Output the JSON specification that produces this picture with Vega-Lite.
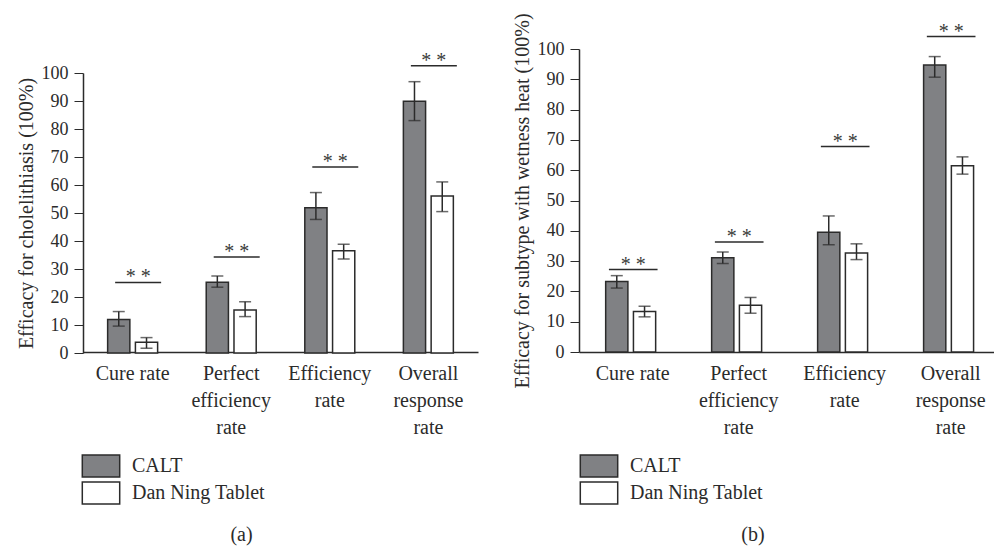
{
  "$schema": "https://vega.github.io/schema/vega-lite/v6.json",
  "padding": {"left": 16, "top": 12, "right": 0, "bottom": 4},
  "config": {
    "font": "Liberation Serif",
    "view": {"stroke": null},
    "axis": {"grid": false, "domainColor": "#2b2b2b", "tickColor": "#2b2b2b", "labelColor": "#2b2b2b", "titleColor": "#2b2b2b", "titleFontWeight": "normal", "labelFont": "Liberation Serif", "titleFont": "Liberation Serif"},
    "axisY": {"values": [0, 10, 20, 30, 40, 50, 60, 70, 80, 90, 100], "tickCount": 11, "labelOverlap": false},
    "legend": {"labelFont": "Liberation Serif", "labelColor": "#2b2b2b"}
  },
  "datasets": {
    "a_bars": [
      {"rate": "Cure rate", "group": "CALT", "value": 12.0, "lo": 9.6, "hi": 14.8},
      {"rate": "Cure rate", "group": "Dan Ning Tablet", "value": 3.8, "lo": 1.7, "hi": 5.5},
      {"rate": "Perfect efficiency rate", "group": "CALT", "value": 25.3, "lo": 23.5, "hi": 27.5},
      {"rate": "Perfect efficiency rate", "group": "Dan Ning Tablet", "value": 15.4, "lo": 13.0, "hi": 18.3},
      {"rate": "Efficiency rate", "group": "CALT", "value": 51.9, "lo": 47.7, "hi": 57.3},
      {"rate": "Efficiency rate", "group": "Dan Ning Tablet", "value": 36.5, "lo": 33.6, "hi": 38.8},
      {"rate": "Overall response rate", "group": "CALT", "value": 89.9, "lo": 83.0, "hi": 96.9},
      {"rate": "Overall response rate", "group": "Dan Ning Tablet", "value": 56.1, "lo": 50.5, "hi": 61.1}
    ],
    "a_sig": [
      {"rate": "Cure rate", "y": 25.2},
      {"rate": "Perfect efficiency rate", "y": 34.3},
      {"rate": "Efficiency rate", "y": 66.4},
      {"rate": "Overall response rate", "y": 102.6}
    ],
    "b_bars": [
      {"rate": "Cure rate", "group": "CALT", "value": 23.3, "lo": 21.1, "hi": 25.2},
      {"rate": "Cure rate", "group": "Dan Ning Tablet", "value": 13.4, "lo": 11.6, "hi": 15.1},
      {"rate": "Perfect efficiency rate", "group": "CALT", "value": 31.1, "lo": 29.2, "hi": 33.0},
      {"rate": "Perfect efficiency rate", "group": "Dan Ning Tablet", "value": 15.4, "lo": 12.8, "hi": 18.0},
      {"rate": "Efficiency rate", "group": "CALT", "value": 39.5, "lo": 35.4, "hi": 44.9},
      {"rate": "Efficiency rate", "group": "Dan Ning Tablet", "value": 32.7, "lo": 30.5, "hi": 35.7},
      {"rate": "Overall response rate", "group": "CALT", "value": 94.7, "lo": 90.7, "hi": 97.5},
      {"rate": "Overall response rate", "group": "Dan Ning Tablet", "value": 61.5, "lo": 58.7, "hi": 64.4}
    ],
    "b_sig": [
      {"rate": "Cure rate", "y": 27.2},
      {"rate": "Perfect efficiency rate", "y": 36.3},
      {"rate": "Efficiency rate", "y": 67.8},
      {"rate": "Overall response rate", "y": 104.1}
    ]
  },
  "spacing": 101,
  "bounds": "flush",
  "resolve": {"scale": {"color": "independent"}, "legend": {"color": "independent"}},
  "hconcat": [
    {
      "width": 395,
      "height": 303,
      "layer": [
        {
          "data": {"name": "a_bars"},
          "mark": {"type": "bar", "stroke": "#2b2b2b", "strokeWidth": 1.5},
          "encoding": {
            "x": {
              "field": "rate", "type": "nominal",
              "scale": {"domain": ["Cure rate", "Perfect efficiency rate", "Efficiency rate", "Overall response rate"], "paddingInner": 0.493, "paddingOuter": 0.25},
              "axis": {"title": "(a)", "ticks": false, "labelPadding": 11, "labelFontSize": 20, "labelLineHeight": 27, "labelAngle": 0, "labelOverlap": false, "labelLimit": 0, "labelBound": false,
                "labelExpr": "datum.label == 'Cure rate' ? datum.label : split(datum.label, ' ')",
                "domainWidth": 1.5, "titleX": 158, "titleY": 172, "titleAlign": "center", "titleBaseline": "top", "titleFontSize": 20}
            },
            "xOffset": {"field": "group", "type": "nominal", "scale": {"domain": ["CALT", "Dan Ning Tablet"], "paddingInner": 0.2, "paddingOuter": 0}},
            "y": {
              "field": "value", "type": "quantitative",
              "scale": {"domain": [0, 100], "range": [304, 24], "nice": false},
              "axis": {"title": "Efficacy for cholelithiasis (100%)", "values": [0, 10, 20, 30, 40, 50, 60, 70, 80, 90, 100], "labelOverlap": false, "tickSize": 9, "labelFontSize": 18, "labelPadding": 6, "titleFontSize": 20, "titlePadding": 5, "domainWidth": 1.5}
            },
            "color": {
              "field": "group", "type": "nominal",
              "scale": {"domain": ["CALT", "Dan Ning Tablet"], "range": ["#808184", "#ffffff"]},
              "legend": {"title": null, "orient": "none", "legendX": 6, "legendY": 405, "labelFontSize": 20, "labelOffset": 19, "symbolType": "M-1.7,-1H1.7V1H-1.7Z", "symbolSize": 484, "symbolStrokeColor": "#2b2b2b", "symbolStrokeWidth": 1.5, "symbolOpacity": 1, "rowPadding": -1}
            }
          }
        },
        {
          "data": {"name": "a_bars"},
          "mark": {"type": "rule", "color": "#2b2b2b", "strokeWidth": 1.5},
          "encoding": {
            "x": {"field": "rate", "type": "nominal"},
            "xOffset": {"field": "group", "type": "nominal"},
            "y": {"field": "lo", "type": "quantitative"},
            "y2": {"field": "hi"}
          }
        },
        {
          "data": {"name": "a_bars"},
          "mark": {"type": "tick", "color": "#2b2b2b", "thickness": 1.5, "size": 12, "orient": "horizontal"},
          "encoding": {
            "x": {"field": "rate", "type": "nominal"},
            "xOffset": {"field": "group", "type": "nominal"},
            "y": {"field": "lo", "type": "quantitative"}
          }
        },
        {
          "data": {"name": "a_bars"},
          "mark": {"type": "tick", "color": "#2b2b2b", "thickness": 1.5, "size": 12, "orient": "horizontal"},
          "encoding": {
            "x": {"field": "rate", "type": "nominal"},
            "xOffset": {"field": "group", "type": "nominal"},
            "y": {"field": "hi", "type": "quantitative"}
          }
        },
        {
          "data": {"name": "a_sig"},
          "mark": {"type": "rule", "color": "#2b2b2b", "strokeWidth": 1.5},
          "encoding": {
            "x": {"field": "rate", "type": "nominal", "bandPosition": 0.15},
            "x2": {"field": "rate", "bandPosition": 1.07},
            "y": {"field": "y", "type": "quantitative"}
          }
        },
        {
          "data": {"name": "a_sig"},
          "mark": {"type": "text", "text": "* *", "fontSize": 20, "baseline": "alphabetic", "dy": 1, "color": "#3a3a3a"},
          "encoding": {
            "x": {"field": "rate", "type": "nominal", "bandPosition": 0.61},
            "y": {"field": "y", "type": "quantitative"}
          }
        }
      ]
    },
    {
      "width": 415,
      "height": 303,
      "layer": [
        {
          "data": {"name": "b_bars"},
          "mark": {"type": "bar", "stroke": "#2b2b2b", "strokeWidth": 1.5},
          "encoding": {
            "x": {
              "field": "rate", "type": "nominal",
              "scale": {"domain": ["Cure rate", "Perfect efficiency rate", "Efficiency rate", "Overall response rate"], "paddingInner": 0.49, "paddingOuter": 0.203, "align": 0.62},
              "axis": {"title": "(b)", "ticks": false, "labelPadding": 11, "labelFontSize": 20, "labelLineHeight": 27, "labelAngle": 0, "labelOverlap": false, "labelLimit": 0, "labelBound": false,
                "labelExpr": "datum.label == 'Cure rate' ? datum.label : split(datum.label, ' ')",
                "domainWidth": 1.5, "titleX": 173.5, "titleY": 172, "titleAlign": "center", "titleBaseline": "top", "titleFontSize": 20}
            },
            "xOffset": {"field": "group", "type": "nominal", "scale": {"domain": ["CALT", "Dan Ning Tablet"], "paddingInner": 0.2, "paddingOuter": 0}},
            "y": {
              "field": "value", "type": "quantitative",
              "scale": {"domain": [0, 100], "nice": false},
              "axis": {"title": "Efficacy for subtype with wetness heat (100%)", "values": [0, 10, 20, 30, 40, 50, 60, 70, 80, 90, 100], "labelOverlap": false, "tickSize": 9, "labelFontSize": 18, "labelPadding": 6, "titleFontSize": 20, "titlePadding": 5, "domainWidth": 1.5}
            },
            "color": {
              "field": "group", "type": "nominal",
              "scale": {"domain": ["CALT", "Dan Ning Tablet"], "range": ["#808184", "#ffffff"]},
              "legend": {"title": null, "orient": "none", "legendX": 8, "legendY": 405, "labelFontSize": 20, "labelOffset": 19, "symbolType": "M-1.7,-1H1.7V1H-1.7Z", "symbolSize": 484, "symbolStrokeColor": "#2b2b2b", "symbolStrokeWidth": 1.5, "symbolOpacity": 1, "rowPadding": -1}
            }
          }
        },
        {
          "data": {"name": "b_bars"},
          "mark": {"type": "rule", "color": "#2b2b2b", "strokeWidth": 1.5},
          "encoding": {
            "x": {"field": "rate", "type": "nominal"},
            "xOffset": {"field": "group", "type": "nominal"},
            "y": {"field": "lo", "type": "quantitative"},
            "y2": {"field": "hi"}
          }
        },
        {
          "data": {"name": "b_bars"},
          "mark": {"type": "tick", "color": "#2b2b2b", "thickness": 1.5, "size": 12, "orient": "horizontal"},
          "encoding": {
            "x": {"field": "rate", "type": "nominal"},
            "xOffset": {"field": "group", "type": "nominal"},
            "y": {"field": "lo", "type": "quantitative"}
          }
        },
        {
          "data": {"name": "b_bars"},
          "mark": {"type": "tick", "color": "#2b2b2b", "thickness": 1.5, "size": 12, "orient": "horizontal"},
          "encoding": {
            "x": {"field": "rate", "type": "nominal"},
            "xOffset": {"field": "group", "type": "nominal"},
            "y": {"field": "hi", "type": "quantitative"}
          }
        },
        {
          "data": {"name": "b_sig"},
          "mark": {"type": "rule", "color": "#2b2b2b", "strokeWidth": 1.5},
          "encoding": {
            "x": {"field": "rate", "type": "nominal", "bandPosition": 0.06},
            "x2": {"field": "rate", "bandPosition": 0.96},
            "y": {"field": "y", "type": "quantitative"}
          }
        },
        {
          "data": {"name": "b_sig"},
          "mark": {"type": "text", "text": "* *", "fontSize": 20, "baseline": "alphabetic", "dy": 1, "color": "#3a3a3a"},
          "encoding": {
            "x": {"field": "rate", "type": "nominal", "bandPosition": 0.51},
            "y": {"field": "y", "type": "quantitative"}
          }
        }
      ]
    }
  ]
}
